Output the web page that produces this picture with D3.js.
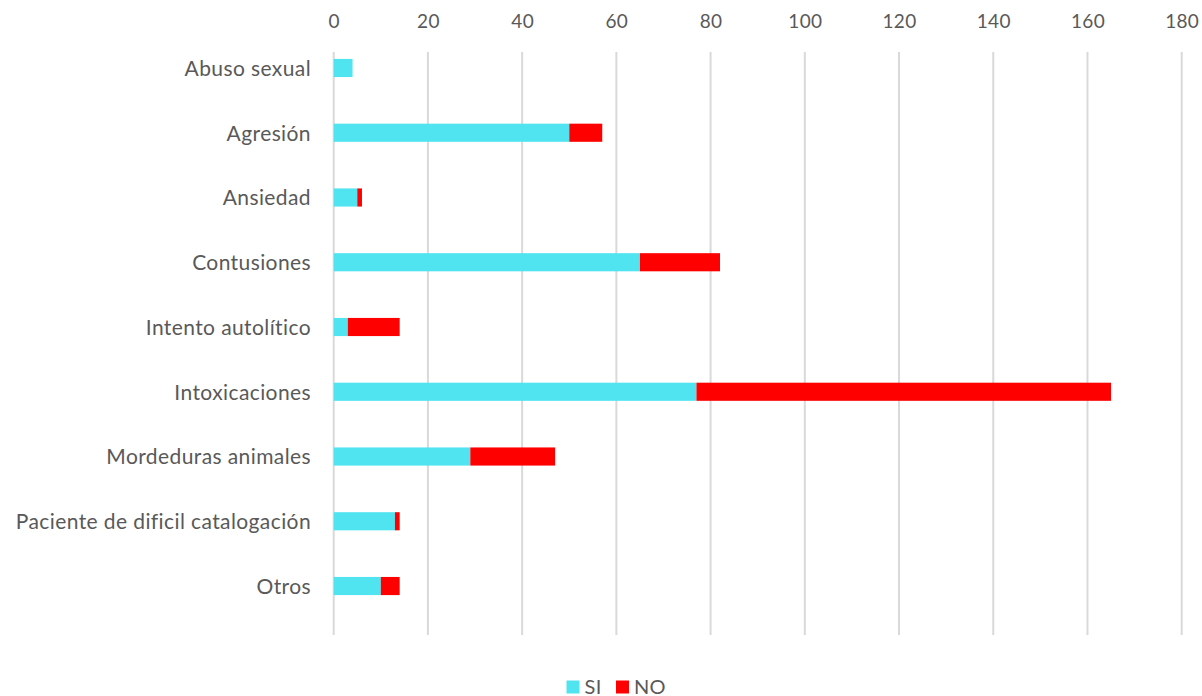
<!DOCTYPE html>
<html><head><meta charset="utf-8">
<script src="https://cdn.jsdelivr.net/npm/d3@7"></script>
<style>
html,body{margin:0;padding:0;background:#fff;}
svg text{font-family:Lato,"Open Sans",sans-serif;fill:#595959;}
</style></head>
<body>
<svg id="c" width="1202" height="696"></svg>
<script>
const categories = ["Abuso sexual","Agresión","Ansiedad","Contusiones","Intento autolítico","Intoxicaciones","Mordeduras animales","Paciente de dificil catalogación","Otros"];
const siValues = [4,50,5,65,3,77,29,13,10];
const noValues = [0,7,1,17,11,88,18,1,4];
const tickValues = [0,20,40,60,80,100,120,140,160,180];
const seriesNames = ["SI","NO"];
const seriesColors = ["#50E3F0","#FF0000"];

const svg = d3.select("#c");
const x = d3.scaleLinear().domain([0,180]).range([333.7,1181.7]);
const y = d3.scaleBand().domain(categories).range([35.6,618.4]).paddingInner(0.72).paddingOuter(0.36);

// gridlines
svg.append("g").selectAll("line").data(tickValues).join("line")
  .attr("x1",d=>x(d)).attr("x2",d=>x(d)).attr("y1",52).attr("y2",635)
  .attr("stroke","#d9d9d9").attr("stroke-width",2);

// top axis labels
const ax = d3.axisTop(x).tickValues(tickValues).tickSize(0).tickPadding(0);
const gAx = svg.append("g").attr("transform","translate(0,28)").call(ax);
gAx.select(".domain").remove();
gAx.selectAll("text").style("font-size","19px").style("letter-spacing","0.3px").attr("fill","#595959").attr("dy","0");

// category labels
const ay = d3.axisLeft(y).tickSize(0).tickPadding(0);
const gAy = svg.append("g").attr("transform","translate(311,0)").call(ay);
gAy.select(".domain").remove();
gAy.selectAll("text").style("font-size","21px").style("letter-spacing","0.4px").attr("fill","#595959").attr("dy","0.38em");

// bars
const rows = categories.map((c,i)=>({c, si:siValues[i], no:noValues[i]}));
svg.append("g").selectAll("rect").data(rows).join("rect")
  .attr("x",d=>x(0)).attr("y",d=>y(d.c)).attr("width",d=>x(d.si)-x(0)).attr("height",y.bandwidth())
  .attr("fill",seriesColors[0]);
svg.append("g").selectAll("rect").data(rows.filter(d=>d.no>0)).join("rect")
  .attr("x",d=>x(d.si)).attr("y",d=>y(d.c)).attr("width",d=>x(d.si+d.no)-x(d.si)).attr("height",y.bandwidth())
  .attr("fill",seriesColors[1]);

// legend
const leg = svg.append("g");
const legX = [566.5, 616];
seriesNames.forEach((n,i)=>{
  leg.append("rect").attr("x",legX[i]).attr("y",680.5).attr("width",13).attr("height",13).attr("fill",seriesColors[i]);
  leg.append("text").attr("x",legX[i]+18).attr("y",694).style("font-size","20px").style("letter-spacing","0.3px").text(n);
});
</script>
</body></html>
